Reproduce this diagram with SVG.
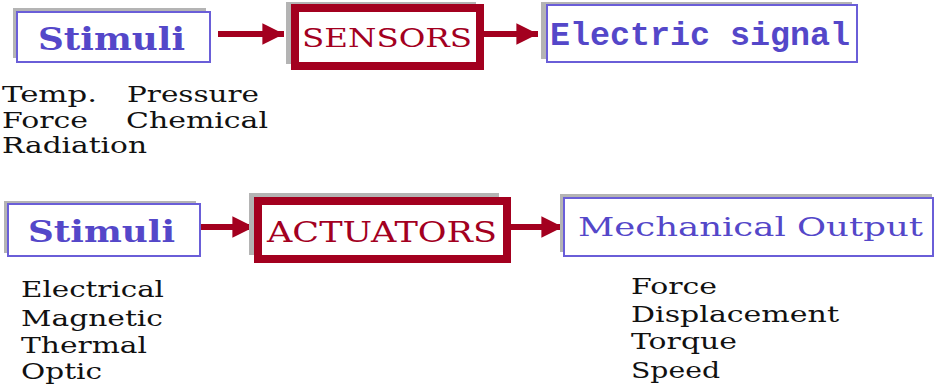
<svg xmlns="http://www.w3.org/2000/svg" width="937" height="390" viewBox="0 0 937 390">
  <style>
    .shadow { fill: #b4b4b4; }
    .blue-box { fill: #ffffff; stroke: #6a5ed8; stroke-width: 2; }
    .red-box { fill: #ffffff; stroke: #a3001f; stroke-width: 8; }
    .blue-bold { font-family: "DejaVu Serif", "Liberation Serif", serif; font-weight: bold; fill: #5447c9; }
    .blue-reg { font-family: "DejaVu Serif", "Liberation Serif", serif; fill: #5447c9; }
    .mono { font-family: "Liberation Mono", "DejaVu Sans Mono", monospace; font-weight: bold; fill: #5447c9; }
    .red-text { font-family: "DejaVu Serif", "Liberation Serif", serif; fill: #a3001f; }
    .label { font-family: "DejaVu Serif", "Liberation Serif", serif; font-size: 23px; fill: #111111; }
    .conn line { stroke: #a3001f; stroke-width: 6; }
  </style>
  <defs>
    <marker id="head" viewBox="0 0 10 10" refX="10" refY="5" markerWidth="4.3" markerHeight="3.6" markerUnits="strokeWidth" orient="auto">
      <path d="M0,0 L10,5 L0,10 Z" fill="#a3001f"/>
    </marker>
  </defs>

  <rect width="937" height="390" fill="#ffffff"/>

  <!-- connectors -->
  <g id="connectors" class="conn">
    <line x1="218" y1="34" x2="284" y2="34" marker-end="url(#head)"/>
    <line x1="484" y1="34" x2="538" y2="34" marker-end="url(#head)"/>
    <line x1="200" y1="227" x2="254" y2="227" marker-end="url(#head)"/>
    <line x1="511" y1="227" x2="563" y2="227" marker-end="url(#head)"/>
  </g>

  <!-- sensing chain -->
  <g id="stimuli-top">
    <rect class="shadow" x="13" y="8" width="193" height="50"/>
    <rect class="blue-box" x="17" y="12" width="193" height="50"/>
    <text class="blue-bold" x="38" y="50" font-size="31" textLength="147" lengthAdjust="spacingAndGlyphs">Stimuli</text>
  </g>

  <g id="sensors">
    <rect class="shadow" x="286" y="2" width="190" height="62"/>
    <rect class="red-box" x="295" y="8" width="185" height="58"/>
    <text class="red-text" x="302" y="47" font-size="26" textLength="170" lengthAdjust="spacingAndGlyphs">SENSORS</text>
  </g>

  <g id="electric-signal">
    <rect class="shadow" x="541" y="2" width="311" height="57"/>
    <rect class="blue-box" x="547" y="5" width="310" height="57"/>
    <text class="mono" x="550" y="45" font-size="34" textLength="300" lengthAdjust="spacingAndGlyphs">Electric signal</text>
  </g>

  <g id="sensor-inputs">
    <text class="label" x="2" y="102" textLength="95" lengthAdjust="spacingAndGlyphs">Temp.</text>
    <text class="label" x="127" y="102" textLength="132" lengthAdjust="spacingAndGlyphs">Pressure</text>
    <text class="label" x="2" y="128" textLength="86" lengthAdjust="spacingAndGlyphs">Force</text>
    <text class="label" x="126" y="128" textLength="142" lengthAdjust="spacingAndGlyphs">Chemical</text>
    <text class="label" x="2" y="153" textLength="145" lengthAdjust="spacingAndGlyphs">Radiation</text>
  </g>

  <!-- actuation chain -->
  <g id="stimuli-bottom">
    <rect class="shadow" x="4" y="201" width="192" height="52"/>
    <rect class="blue-box" x="8" y="204" width="192" height="52"/>
    <text class="blue-bold" x="28" y="242" font-size="30" textLength="147" lengthAdjust="spacingAndGlyphs">Stimuli</text>
  </g>

  <g id="actuators">
    <rect class="shadow" x="249" y="193" width="250" height="62"/>
    <rect class="red-box" x="258" y="201" width="249" height="58"/>
    <text class="red-text" x="267" y="242" font-size="27" textLength="230" lengthAdjust="spacingAndGlyphs">ACTUATORS</text>
  </g>

  <g id="mechanical-output">
    <rect class="shadow" x="560" y="194" width="372" height="58"/>
    <rect class="blue-box" x="564" y="198" width="369" height="58"/>
    <text class="blue-reg" x="578" y="236" font-size="26" textLength="345" lengthAdjust="spacingAndGlyphs">Mechanical Output</text>
  </g>

  <g id="actuator-inputs">
    <text class="label" x="21" y="297" textLength="143" lengthAdjust="spacingAndGlyphs">Electrical</text>
    <text class="label" x="21" y="326" textLength="142" lengthAdjust="spacingAndGlyphs">Magnetic</text>
    <text class="label" x="21" y="353" textLength="126" lengthAdjust="spacingAndGlyphs">Thermal</text>
    <text class="label" x="21" y="379" textLength="81" lengthAdjust="spacingAndGlyphs">Optic</text>
  </g>

  <g id="actuator-outputs">
    <text class="label" x="631" y="294" textLength="86" lengthAdjust="spacingAndGlyphs">Force</text>
    <text class="label" x="631" y="322" textLength="208" lengthAdjust="spacingAndGlyphs">Displacement</text>
    <text class="label" x="631" y="349" textLength="106" lengthAdjust="spacingAndGlyphs">Torque</text>
    <text class="label" x="631" y="378" textLength="89" lengthAdjust="spacingAndGlyphs">Speed</text>
  </g>
</svg>
